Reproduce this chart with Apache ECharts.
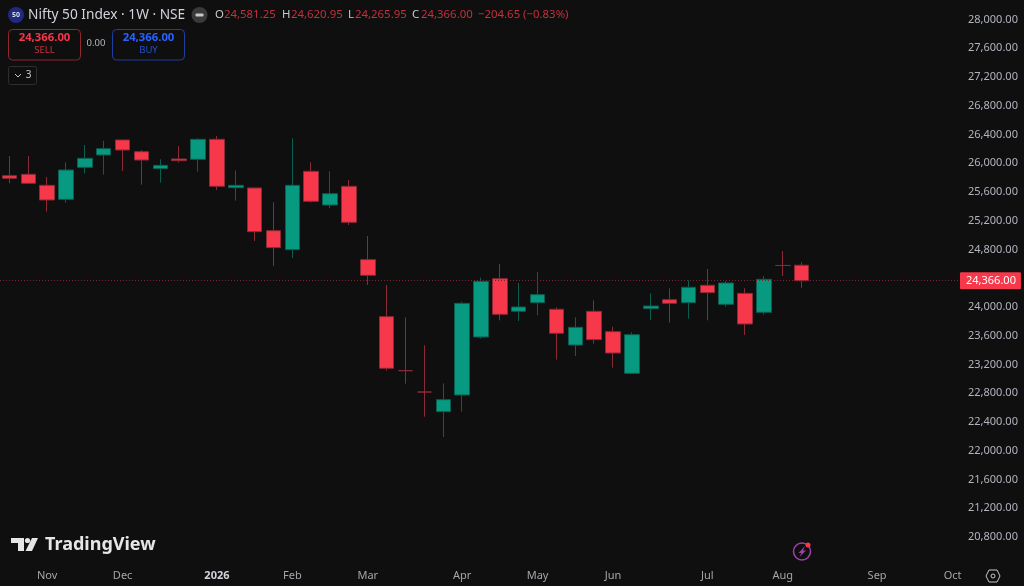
<!DOCTYPE html>
<html><head><meta charset="utf-8">
<style>html,body{margin:0;padding:0;background:#0f0f0f}#c{width:1024px;height:586px}</style>
<script src="https://cdn.jsdelivr.net/npm/echarts@6/dist/echarts.min.js"></script>
</head><body><div id="c"></div>
<script>
const weeks = ['2025-10-20','2025-10-27','2025-11-03','2025-11-10','2025-11-17','2025-11-24','2025-12-01','2025-12-08','2025-12-15','2025-12-22','2025-12-29','2026-01-05','2026-01-12','2026-01-19','2026-01-26','2026-02-02','2026-02-09','2026-02-16','2026-02-23','2026-03-02','2026-03-09','2026-03-16','2026-03-23','2026-03-30','2026-04-06','2026-04-13','2026-04-20','2026-04-27','2026-05-04','2026-05-11','2026-05-18','2026-05-25','2026-06-01','2026-06-08','2026-06-15','2026-06-22','2026-06-29','2026-07-06','2026-07-13','2026-07-20','2026-07-27','2026-08-03','2026-08-10','2026-08-17','2026-08-24','2026-08-31','2026-09-07','2026-09-14','2026-09-21','2026-09-28','2026-10-05'];
const monthTicks = {'2025-11-03':'Nov','2025-12-01':'Dec','2026-01-05':'2026','2026-02-02':'Feb','2026-03-02':'Mar','2026-04-06':'Apr','2026-05-04':'May','2026-06-01':'Jun','2026-07-06':'Jul','2026-08-03':'Aug','2026-09-07':'Sep','2026-10-05':'Oct'};
const opens  = [25827,25846,25693,25498,25943,26115,26324,26161,25925,26059,26055,26333,25660,25656,25062,24798,25888,25419,25679,24659,23866,23114,22817,22544,22776,23583,24394,23940,24060,23968,23471,23940,23657,23077,23977,24102,24060,24302,24037,24190,23926,24578,24581.25];
const closes = [25790,25721,25489,25906,26069,26203,26184,26045,25971,26036,26333,25679,25693,25048,24826,25693,25470,25577,25178,24441,23147,23114,22817,22711,24051,24357,23898,24000,24172,23634,23717,23546,23360,23615,24014,24051,24274,24200,24334,23764,24385,24578,24366];
const highs  = [26101,26101,25809,26013,26254,26314,26329,26184,26055,26240,26347,26379,25901,25660,25456,26347,26013,25888,25767,24988,24306,23856,23467,22938,24074,24408,24598,24334,24487,23995,23856,24093,23726,23648,24190,24260,24371,24529,24362,24260,24431,24779,24620.95];
const lows   = [25721,25711,25326,25452,25860,25841,25892,25702,25730,26013,25883,25628,25479,24918,24571,24682,25452,25377,25141,24306,23114,22933,22474,22191,22544,23560,23815,23805,23884,23267,23318,23490,23156,23077,23819,23782,23838,23815,24005,23611,23893,24431,24265.95];
const lastPrice = 24366;
const priceMin = 20400, priceMax = 28000, priceStep = 400;

const RED='#f7374a', GREEN='#089981', RW='#8a2a36', GW='#0b5e4f', BG='#0f0f0f';
const candles = opens.map((o,i)=>[o,closes[i],lows[i],highs[i]]);
const fmt = v => v.toLocaleString('en-US',{minimumFractionDigits:2,maximumFractionDigits:2});
const FONT = '"Noto Sans", sans-serif';
const t = (x,y,text,fill,size,extra={}) => ({type:'text',x,y,silent:true,style:{text,fill,font:`${extra.weight||'normal'} ${size}px ${FONT}`,textAlign:extra.align||'left',textVerticalAlign:'middle'}});
const box = (x,y,w,h,stroke,r=4) => ({type:'rect',silent:true,shape:{x,y,width:w,height:h,r},style:{fill:'transparent',stroke,lineWidth:1}});

const ohlc = [['O','#c8c9cc'],['24,581.25','#c4303d'],['H','#c8c9cc'],['24,620.95','#c4303d'],['L','#c8c9cc'],['24,265.95','#c4303d'],['C','#c8c9cc'],['24,366.00','#c4303d'],['−204.65 (−0.83%)','#c4303d']];
const ohlcX = [215,224,282,291,348,355,412,421,478];

const chart = echarts.init(document.getElementById('c'));
chart.setOption({
  animation:false,
  backgroundColor:BG,
  grid:{left:-0.9,top:19.5,width:962.88,height:546.25,containLabel:false},
  xAxis:{type:'category',data:weeks,boundaryGap:true,
    axisLine:{show:false},axisTick:{show:false},splitLine:{show:false},
    axisLabel:{interval:(i,v)=>v in monthTicks,margin:5,color:'#a3a6ad',fontFamily:FONT,fontSize:11,
      formatter:v=>{const s=monthTicks[v]||'';return s==='2026'?`{b|${s}}`:s;},
      rich:{b:{fontWeight:'bold',color:'#d1d4dc',fontFamily:FONT,fontSize:11}}}},
  yAxis:{type:'value',position:'right',min:priceMin,max:priceMax,interval:priceStep,scale:true,
    axisLine:{show:false},axisTick:{show:false},splitLine:{show:false},
    axisLabel:{showMinLabel:false,margin:6,color:'#b2b5be',fontFamily:FONT,fontSize:11,padding:[0,0,3,0],formatter:v=>fmt(v)}},
  series:[{type:'candlestick',data:candles,barWidth:15,clip:false,
    itemStyle:{color:GREEN,color0:RED,borderColor:GW,borderColor0:RW,borderColorDoji:RW,borderWidth:1},
    markLine:{silent:true,symbol:'none',animation:false,
      lineStyle:{color:'#7a2530',type:[1,2],width:1},
      label:{position:'end',distance:-2,formatter:()=>fmt(lastPrice),color:'#fff',backgroundColor:RED,fontFamily:FONT,fontSize:11,padding:[3,5,3,6],borderRadius:1},
      data:[{yAxis:lastPrice}]}}],
  graphic:{elements:[
    {type:'circle',silent:true,shape:{cx:16,cy:15,r:8},style:{fill:'#1f2a80'}},
    t(16,15,'50','#d8dbe8',7,{align:'center',weight:'bold'}),
    t(28,15,'Nifty 50 Index · 1W · NSE','#d1d4dc',13.7),
    {type:'circle',silent:true,shape:{cx:199.5,cy:15,r:8},style:{fill:'#3a3a3a'}},
    {type:'rect',silent:true,shape:{x:195.5,y:13.5,width:8,height:3,r:1},style:{fill:'#c8c8c8'}},
    ...ohlc.map((p,i)=>t(ohlcX[i],15,p[0],p[1],11.4)),
    box(8.5,29.5,72,30.5,'#8f2630'),
    t(44.5,38,'24,366.00',RED,11.3,{align:'center',weight:'bold'}),
    t(44.5,50.5,'SELL','#d0303f',9.5,{align:'center'}),
    t(96,43.5,'0.00','#b2b5be',9.5,{align:'center'}),
    box(112.5,29.5,72,30.5,'#1f3fa0'),
    t(148.5,38,'24,366.00','#2962ff',11.3,{align:'center',weight:'bold'}),
    t(148.5,50.5,'BUY','#2450d8',9.5,{align:'center'}),
    box(8.5,66.5,28,18,'#2e2e2e',2),
    {type:'polyline',silent:true,shape:{points:[[15,74],[18,77],[21,74]]},style:{stroke:'#c8c8c8',fill:'none',lineWidth:1}},
    t(28.5,75.5,'3','#c8c9cc',10,{align:'center'}),
    {type:'polygon',silent:true,shape:{points:[[11,538],[24,538],[24,551],[18,551],[18,543],[11,543]]},style:{fill:'#e6e6e6'}},
    {type:'circle',silent:true,shape:{cx:27.5,cy:540.5,r:2.6},style:{fill:'#e6e6e6'}},
    {type:'polygon',silent:true,shape:{points:[[32,538],[38,538],[32,551],[25.5,551]]},style:{fill:'#e6e6e6'}},
    t(45,544.5,'TradingView','#e6e6e6',18,{weight:'bold'}),
    {type:'circle',silent:true,shape:{cx:802,cy:551.5,r:8.5},style:{fill:'none',stroke:'#9c3fb0',lineWidth:1.5}},
    {type:'polygon',silent:true,shape:{points:[[805,546],[798.5,553],[801.5,553],[799.5,557],[806,550.5],[803,550.5]]},style:{fill:'#9c3fb0'}},
    {type:'circle',silent:true,shape:{cx:808,cy:545,r:2.5},style:{fill:RED}},
    {type:'polygon',silent:true,shape:{points:[[989,570],[997,570],[1000,576],[997,582],[989,582],[986,576]]},style:{fill:'none',stroke:'#c8c8c8',lineWidth:1}},
    {type:'circle',silent:true,shape:{cx:993,cy:576,r:2},style:{fill:'none',stroke:'#c8c8c8',lineWidth:1}}
  ]}
});
</script></body></html>
